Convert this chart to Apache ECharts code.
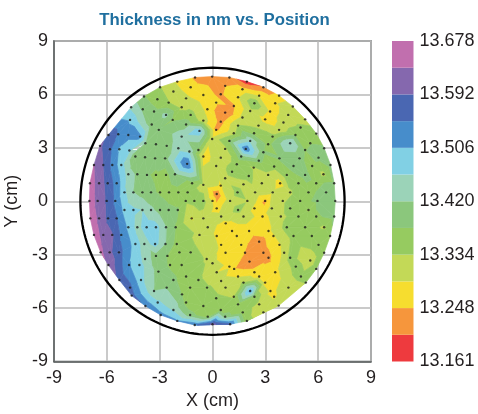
<!DOCTYPE html>
<html><head><meta charset="utf-8">
<style>html,body{margin:0;padding:0;background:#fff}#c{width:478px;height:414px}</style>
<script src="https://cdn.jsdelivr.net/npm/echarts@6/dist/echarts.min.js"></script>
</head><body><div id="c"></div>
<script>
// measurement sites [x cm, y cm, thickness nm], by wafer quadrant
const sitesNW = [
[-0.99,6.95,13.24],[-2.0,6.72,13.285],[-2.98,6.40,13.335],[-1.24,6.40,13.265],[-2.22,6.16,13.31],[-0.52,5.97,13.26],
[-1.5,5.78,13.30],[-3.89,5.88,13.38],[-3.13,5.73,13.35],[-2.49,5.54,13.335],[-4.62,5.28,13.45],[-1.75,5.28,13.32],
[-3.96,5.17,13.41],[-0.29,5.17,13.275],[-3.32,5.04,13.39],[-2.64,4.85,13.43],[-1.24,4.85,13.35],[-4.68,4.57,13.50],
[-2.26,4.57,13.37],[-0.52,4.53,13.31],[-3.45,4.31,13.39],[-1.5,4.31,13.40],[-3.05,4.01,13.38],[-0.74,3.95,13.49],
[-5.91,3.72,13.58],[-5.35,3.76,13.545],[-4.78,3.72,13.52],[-4.11,3.63,13.515],[-1.75,3.63,13.445],[-3.81,3.26,13.42],
[-3.21,3.20,13.39],[-6.39,3.11,13.60],[-2.6,3.11,13.40],[-1.94,2.98,13.44],[-5.82,2.92,13.555],[-5.29,2.92,13.50],
[-4.72,2.85,13.47],[-1.31,2.79,13.45],[-0.8,2.88,13.37],[-4.38,2.51,13.375],[-3.83,2.47,13.395],[-3.26,2.41,13.39],
[-2.69,2.41,13.40],[-0.52,2.51,13.275],[-6.73,2.04,13.635],[-6.2,2.04,13.59],[-5.69,2.04,13.535],[-5.18,2.04,13.48],
[-1.44,2.10,13.55],[-4.78,1.52,13.44],[-4.27,1.52,13.41],[-3.72,1.48,13.38],[-3.21,1.48,13.37],[-2.64,1.48,13.36],
[-2.13,1.52,13.41],[-6.96,1.01,13.655],[-6.44,1.01,13.615],[-5.95,1.01,13.575],[-5.44,1.01,13.53],[-1.16,1.01,13.36],
[-0.52,0.92,13.32],[-5.0,0.50,13.47],[-4.49,0.50,13.42],[-3.98,0.50,13.40],[-3.49,0.50,13.385],[-2.98,0.50,13.37],
[-2.47,0.50,13.35],[-1.94,0.50,13.36],[-1.41,0.50,13.35]];
const sitesNE = [
[-0.02,7.0,13.235],[0.96,6.95,13.225],[1.95,6.72,13.175],[2.89,6.40,13.21],[0.72,6.48,13.245],[1.70,6.29,13.26],
[0.47,6.01,13.24],[2.65,5.93,13.285],[3.78,5.93,13.26],[1.45,5.84,13.285],[0.21,5.54,13.255],[2.38,5.50,13.37],
[3.56,5.50,13.285],[1.21,5.35,13.24],[4.56,5.32,13.32],[0.72,4.98,13.20],[2.14,5.07,13.32],[3.27,5.04,13.28],
[4.30,4.85,13.30],[1.70,4.70,13.30],[0.47,4.47,13.23],[2.99,4.60,13.27],[5.26,4.60,13.31],[4.03,4.42,13.30],
[1.45,4.25,13.335],[5.0,4.14,13.345],[0.21,4.01,13.235],[2.61,4.25,13.32],[3.78,4.01,13.30],[5.89,3.80,13.36],
[1.21,3.82,13.32],[2.36,3.82,13.36],[4.71,3.72,13.375],[3.41,3.63,13.345],[-0.02,3.50,13.30],[0.96,3.39,13.38],
[2.14,3.39,13.45],[4.41,3.26,13.465],[3.16,3.20,13.36],[6.34,2.98,13.38],[0.72,2.94,13.32],[1.89,2.94,13.54],
[2.89,2.75,13.38],[5.26,2.88,13.375],[5.55,3.26,13.375],[1.63,2.51,13.40],[0.47,2.45,13.31],[2.63,2.28,13.385],
[3.80,2.41,13.38],[4.94,2.41,13.385],[6.02,2.45,13.39],[6.70,2.04,13.39],[0.21,1.98,13.305],[1.38,2.08,13.345],
[2.34,1.89,13.33],[3.50,1.95,13.345],[4.60,1.98,13.39],[5.66,1.98,13.36],[1.11,1.66,13.35],[6.30,1.52,13.32],
[3.16,1.48,13.32],[4.22,1.48,13.36],[5.26,1.48,13.385],[2.06,1.42,13.345],[0.72,1.29,13.32],[6.91,1.01,13.385],
[1.76,0.95,13.32],[2.80,1.01,13.305],[3.84,1.01,13.27],[4.88,1.01,13.36],[5.89,1.01,13.37],[0.47,0.88,13.285],
[6.45,0.50,13.385],[5.45,0.50,13.365],[4.41,0.50,13.325],[3.42,0.50,13.30],[2.42,0.50,13.32],[1.42,0.50,13.345],
[0.24,0.41,13.215]];
const sitesSW = [
[-6.99,0.02,13.66],[-6.52,0.02,13.62],[-6.01,0.02,13.585],[-5.52,0.02,13.54],[-1.52,0.02,13.34],[-1.03,0.02,13.35],
[-0.52,0.02,13.345],[-5.0,-0.49,13.49],[-4.49,-0.49,13.47],[-3.98,-0.49,13.46],[-3.49,-0.49,13.43],[-2.98,-0.49,13.40],
[-2.49,-0.49,13.39],[-1.97,-0.49,13.38],[-6.94,-0.96,13.66],[-6.44,-0.96,13.625],[-5.93,-0.96,13.58],[-5.44,-0.96,13.55],
[-1.18,-0.96,13.285],[-0.52,-0.96,13.32],[-4.78,-1.46,13.495],[-4.27,-1.46,13.445],[-3.74,-1.46,13.485],[-3.21,-1.46,13.48],
[-2.64,-1.46,13.42],[-2.09,-1.46,13.375],[-0.27,-1.46,13.30],[-6.73,-1.89,13.655],[-6.2,-1.89,13.62],[-5.69,-1.89,13.595],
[-5.18,-1.89,13.54],[-0.74,-1.89,13.32],[-4.38,-2.40,13.485],[-3.87,-2.40,13.44],[-3.26,-2.40,13.48],[-2.67,-2.40,13.42],
[-2.03,-2.40,13.36],[-6.35,-2.87,13.645],[-5.84,-2.87,13.60],[-5.31,-2.87,13.565],[-1.88,-2.87,13.36],[-1.24,-2.87,13.345],
[-3.21,-3.07,13.40],[-2.56,-3.07,13.375],[-3.83,-3.24,13.44],[-0.33,-3.24,13.33],[-5.91,-3.58,13.625],[-4.74,-3.58,13.51],
[-4.15,-3.58,13.48],[-2.41,-3.58,13.37],[-1.75,-3.58,13.355],[-3.07,-3.95,13.40],[-1.5,-4.23,13.35],[-5.29,-4.42,13.575],
[-4.06,-4.42,13.475],[-2.22,-4.42,13.385],[-0.8,-4.42,13.345],[-4.68,-4.85,13.56],[-2.6,-4.85,13.415],[-1.27,-4.85,13.345],
[-0.31,-4.85,13.34],[-3.32,-5.04,13.42],[-1.73,-5.23,13.375],[-4.59,-5.3,13.565],[-3.11,-5.69,13.47],[-1.5,-5.69,13.36],
[-3.81,-5.88,13.54],[-0.52,-5.88,13.34],[-2.22,-6.11,13.455],[-2.94,-6.39,13.52],[-1.27,-6.39,13.39],[-0.27,-6.48,13.35],
[-2.0,-6.72,13.51],[-1.01,-6.95,13.54]];
const sitesSE = [
[0.0,0.02,13.285],[1.0,0.02,13.315],[1.98,0.02,13.33],[2.99,0.02,13.235],[3.99,0.02,13.325],[4.98,0.02,13.36],
[5.96,0.02,13.385],[6.97,0.02,13.41],[0.24,-0.40,13.27],[1.45,-0.49,13.345],[2.38,-0.40,13.28],[3.37,-0.40,13.31],
[4.41,-0.40,13.355],[5.45,-0.49,13.33],[0.49,-0.86,13.305],[1.76,-0.86,13.31],[2.84,-0.86,13.275],[3.88,-0.86,13.32],
[4.88,-0.86,13.36],[5.89,-0.86,13.37],[6.91,-0.86,13.39],[0.75,-1.24,13.28],[4.22,-1.46,13.35],[5.26,-1.46,13.36],
[6.34,-1.46,13.325],[1.11,-1.67,13.27],[2.08,-1.67,13.27],[3.18,-1.67,13.28],[0.24,-1.95,13.285],[1.38,-1.95,13.265],
[3.46,-1.95,13.285],[4.60,-1.95,13.35],[5.64,-1.95,13.36],[6.68,-1.95,13.36],[2.65,-2.27,13.215],[0.49,-2.45,13.28],
[1.63,-2.45,13.265],[3.80,-2.45,13.285],[6.02,-2.45,13.355],[0.74,-2.89,13.27],[1.85,-2.89,13.245],[2.89,-2.89,13.225],
[4.07,-2.89,13.30],[6.34,-2.89,13.36],[3.18,-3.17,13.235],[4.41,-3.17,13.345],[5.55,-3.33,13.31],[2.10,-3.39,13.205],
[0.0,-3.48,13.30],[0.96,-3.67,13.285],[4.73,-3.67,13.35],[1.23,-3.80,13.25],[5.89,-3.80,13.355],[0.24,-3.99,13.29],
[2.38,-3.99,13.265],[3.56,-3.99,13.275],[1.45,-4.23,13.285],[2.65,-4.23,13.27],[5.02,-4.23,13.345],[0.49,-4.48,13.315],
[1.76,-4.57,13.335],[2.99,-4.57,13.275],[5.30,-4.57,13.335],[0.74,-4.85,13.32],[4.31,-4.85,13.31],[2.14,-5.04,13.52],
[3.29,-5.04,13.28],[1.21,-5.36,13.33],[2.38,-5.36,13.37],[3.50,-5.36,13.285],[0.21,-5.45,13.34],[1.45,-5.79,13.35],
[2.65,-5.79,13.32],[3.76,-5.86,13.31],[0.47,-6.11,13.36],[1.72,-6.24,13.35],[2.89,-6.24,13.32],[0.72,-6.48,13.39],
[1.95,-6.72,13.34],[0.0,-6.91,13.60],[1.0,-6.91,13.56]];
// colour scale, lowest band first
const scaleMin = 13.161;
const scaleMax = 13.678;
const bandColors = ['#ee3a3e','#f6963c','#f6dd2f','#c3d957','#96cb60','#8bc77c','#9bd3b8','#81d0e4','#478dcb','#4a67b2','#8568ae','#c16fae'];
const scaleLabels = ['13.161','13.248','13.334','13.420','13.506','13.592','13.678'];
const waferRadius = 7.5;

const sites = [...sitesNW,...sitesNE,...sitesSW,...sitesSE];

function delaunay(p){
  const n=p.length, S=100;
  const pts=p.concat([[-S,-S,0],[S,-S,0],[0,S,0]]);
  let tris=[[n,n+1,n+2]];
  const inC=(t,q)=>{
    const [a,b,c]=t.map(i=>pts[i]);
    const ax=a[0]-q[0],ay=a[1]-q[1],bx=b[0]-q[0],by=b[1]-q[1],cx=c[0]-q[0],cy=c[1]-q[1];
    const d=(ax*ax+ay*ay)*(bx*cy-cx*by)-(bx*bx+by*by)*(ax*cy-cx*ay)+(cx*cx+cy*cy)*(ax*by-bx*ay);
    const o=(b[0]-a[0])*(c[1]-a[1])-(b[1]-a[1])*(c[0]-a[0]);
    return o>0?d>0:d<0;
  };
  for(let i=0;i<n;i++){
    const bad=[],keep=[];
    tris.forEach(t=>(inC(t,pts[i])?bad:keep).push(t));
    const edges={};
    bad.forEach(t=>[[t[0],t[1]],[t[1],t[2]],[t[2],t[0]]].forEach(e=>{
      const k=Math.min(e[0],e[1])+'_'+Math.max(e[0],e[1]);
      edges[k]=edges[k]?null:e;
    }));
    tris=keep;
    Object.values(edges).forEach(e=>{if(e)tris.push([e[0],e[1],i]);});
  }
  return tris.filter(t=>t.every(i=>i<n)).map(t=>t.map(i=>pts[i])).filter(t=>{
    const ar=Math.abs((t[1][0]-t[0][0])*(t[2][1]-t[0][1])-(t[1][1]-t[0][1])*(t[2][0]-t[0][0]))/2;
    return ar>0.001;
  });
}
function clip(poly,level,keepAbove){
  const out=[];
  for(let i=0;i<poly.length;i++){
    const a=poly[i],b=poly[(i+1)%poly.length];
    const ia=keepAbove?a[2]>=level:a[2]<=level, ib=keepAbove?b[2]>=level:b[2]<=level;
    if(ia)out.push(a);
    if(ia!==ib){const t=(level-a[2])/(b[2]-a[2]);out.push([a[0]+t*(b[0]-a[0]),a[1]+t*(b[1]-a[1]),level]);}
  }
  return out;
}
const triangles=delaunay(sites);
const step=(scaleMax-scaleMin)/bandColors.length;

function renderField(params,api){
  const tri=triangles[params.dataIndex], children=[];
  bandColors.forEach((col,k)=>{
    const lo=k===0?-Infinity:scaleMin+k*step, hi=k===bandColors.length-1?Infinity:scaleMin+(k+1)*step;
    let poly=tri;
    if(isFinite(lo))poly=clip(poly,lo,true);
    if(poly.length&&isFinite(hi))poly=clip(poly,hi,false);
    if(poly.length>2)children.push({type:'polygon',shape:{points:poly.map(q=>api.coord([q[0],q[1]]))},
      style:{fill:col,stroke:col,lineWidth:0.7}});
  });
  return {type:'group',children};
}
function renderWafer(params,api){
  const pts=[];
  for(let d=0;d<360;d+=2){const r=d*Math.PI/180;pts.push(api.coord([waferRadius*Math.cos(r),waferRadius*Math.sin(r)]));}
  return {type:'polygon',shape:{points:pts},style:{fill:'none',stroke:'#000',lineWidth:2.3}};
}
function renderBand(params,api){
  const a=api.coord([0,params.dataIndex]),b=api.coord([1,params.dataIndex+1]);
  return {type:'rect',shape:{x:a[0],y:b[1],width:b[0]-a[0],height:a[1]-b[1]},style:{fill:bandColors[params.dataIndex]}};
}
const font='"Liberation Sans",Arial,sans-serif', ink='#231f20';
const label={fontFamily:font,fontSize:18,color:ink};
const axisCommon={type:'value',min:-9,max:9,interval:3,
  axisLine:{show:true,onZero:false,lineStyle:{color:'#5a5f5f',width:1.5}},axisTick:{show:false},
  splitLine:{show:true,lineStyle:{color:'#b9b9b9',width:1.5}},
  nameLocation:'center',nameTextStyle:{fontFamily:font,fontSize:18,color:ink}};
const chart=echarts.init(document.getElementById('c'),null,{renderer:'canvas'});
chart.setOption({
  animation:false,backgroundColor:'#fff',
  title:{text:'Thickness in nm vs. Position',left:209.5,top:7,textAlign:'center',
    textStyle:{fontFamily:font,fontSize:16.8,fontWeight:'bold',color:'#1f6f9f'}},
  grid:[{left:54,top:41,width:317,height:320.5,show:true,borderColor:'#5a5f5f',borderWidth:1.5,backgroundColor:'transparent',outerBoundsMode:'none'},
        {left:392,top:41,width:21.5,height:320.5,show:false,outerBoundsMode:'none'}],
  xAxis:[{...axisCommon,gridIndex:0,name:'X (cm)',nameGap:31,axisLabel:{...label,margin:8}},
         {type:'value',gridIndex:1,min:0,max:1,show:false}],
  yAxis:[{...axisCommon,gridIndex:0,name:'Y (cm)',nameGap:27,axisLabel:{...label,margin:6}},
         {type:'value',gridIndex:1,min:0,max:12,interval:2,position:'right',
          axisLine:{show:false},axisTick:{show:false},splitLine:{show:false},
          axisLabel:{...label,margin:6,formatter:v=>scaleLabels[v/2]}}],
  series:[
    {type:'custom',xAxisIndex:0,yAxisIndex:0,coordinateSystem:'cartesian2d',clip:false,silent:true,z:2,
     data:triangles.map(t=>[t[0][0],t[0][1]]),encode:{x:0,y:1},renderItem:renderField},
    {type:'scatter',xAxisIndex:0,yAxisIndex:0,z:4,silent:true,symbol:'circle',symbolSize:2.4,
     itemStyle:{color:'#1a1a1a'},data:sites.map(s=>[s[0],s[1]])},
    {type:'custom',xAxisIndex:0,yAxisIndex:0,coordinateSystem:'cartesian2d',clip:false,silent:true,z:5,
     data:[[0,0]],encode:{x:0,y:1},renderItem:renderWafer},
    {type:'custom',xAxisIndex:1,yAxisIndex:1,coordinateSystem:'cartesian2d',clip:false,silent:true,z:2,
     data:bandColors.map((c,i)=>[0,i]),encode:{x:0,y:1},renderItem:renderBand}
  ]
});
</script></body></html>
